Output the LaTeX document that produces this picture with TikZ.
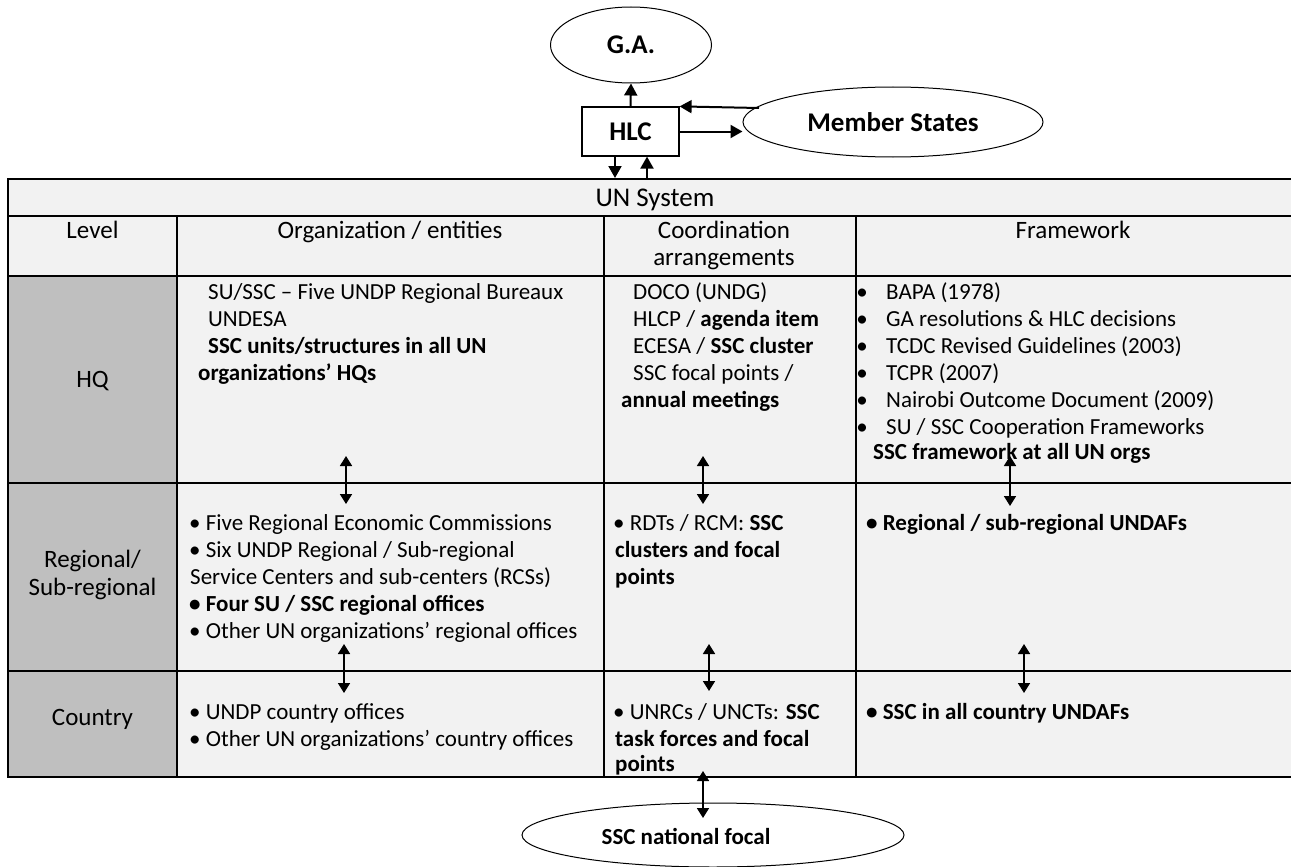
\documentclass[tikz,border=0pt]{standalone}
\usepackage{fontspec}
\setmainfont{Carlito}
\usetikzlibrary{arrows.meta,shapes.geometric}
\definecolor{cellbg}{HTML}{F2F2F2}
\definecolor{levelbg}{HTML}{BFBFBF}
\tikzset{
  body/.style={font=\fontsize{23}{26}\selectfont, inner sep=0pt, anchor=base west},
  bodyb/.style={font=\fontsize{23}{26}\selectfont\bfseries, inner sep=0pt, anchor=base west},
  hdr/.style={font=\fontsize{25}{28}\selectfont, inner sep=0pt, anchor=base},
  bullet/.style={font=\fontsize{23}{26}\selectfont, inner sep=0pt, anchor=base},
  grid/.style={line width=2.4pt, line cap=rect},
  oval/.style={ellipse, draw, line width=1pt, inner sep=0pt},
  toplbl/.style={font=\fontsize{27}{30}\selectfont\bfseries},
  arr/.style={line width=2pt, -{Triangle[length=12pt,width=13pt]}},
  dbl/.style={line width=1.7pt, {Triangle[length=10pt,width=12pt]}-{Triangle[length=10pt,width=12pt]}},
}
\begin{document}
\begin{tikzpicture}[x=1pt,y=-1pt]
\useasboundingbox (0,0) rectangle (1291,867);
% ---------- top part ----------
\node[oval, minimum width=161pt, minimum height=76pt, toplbl] (ga) at (631,45) {G.A.};
\node[draw, line width=1.2pt, minimum width=97pt, minimum height=49pt, inner sep=0pt, toplbl] (hlc) at (630.5,131.5) {HLC};
\node[oval, minimum width=300pt, minimum height=70pt, toplbl] (ms) at (893,122) {Member States};
\coordinate (msout) at (759,108);
\coordinate (dn) at (615,178);
\coordinate (up) at (647,179);
\draw[arr] (hlc.north) -- (ga.south);
\draw[arr] (msout) -- (hlc.north east);
\draw[arr] (hlc.east) -- (ms.west |- hlc.east);
\draw[arr] (hlc.south -| dn) -- (dn);
\draw[arr] (up) -- (hlc.south -| up);
% ---------- table ----------
\fill[cellbg] (8,179) rectangle (1296,777);
\fill[levelbg] (8,276) rectangle (177,777);
\draw[grid] (1296,179) -- (8,179) -- (8,777) -- (1296,777);
\draw[grid] (8,216) -- (1296,216);
\draw[grid] (8,276) -- (1296,276);
\draw[grid] (8,483) -- (1296,483);
\draw[grid] (8,671) -- (1296,671);
\draw[grid] (177,216) -- (177,777);
\draw[grid] (604,216) -- (604,777);
\draw[grid] (856,216) -- (856,777);
% headers
\node[hdr, font=\fontsize{27}{30}\selectfont] (unsys) at (655,206) {UN System};
\node[hdr] (hlevel) at (92.5,238) {Level};
\node[hdr] (horg) at (390,238) {Organization / entities};
\node[hdr] (hcoord1) at (724,238) {Coordination};
\node[hdr] (hcoord2) at (724,265) {arrangements};
\node[hdr] (hframe) at (1073,238) {Framework};
% level labels
\node[hdr, anchor=center] (lhq) at (92.5,381) {HQ};
\node[hdr, anchor=center, align=center] (lreg) at (92.5,575) {Regional/\\Sub-regional};
\node[hdr, anchor=center] (lcty) at (92.5,719) {Country};
% HQ row, organizations
\node[body] (o1) at (208,299) {SU/SSC – Five UNDP Regional Bureaux};
\node[body] (o2) at (208,326) {UNDESA};
\node[bodyb] (o3) at (208,353) {SSC units/structures in all UN};
\node[bodyb] (o4) at (198,380) {organizations’ HQs};
% HQ row, coordination
\node[body] (c1) at (633,299) {DOCO (UNDG)};
\node[body] (c2) at (633,326) {HLCP / \textbf{agenda item}};
\node[body] (c3) at (633,353) {ECESA / \textbf{SSC cluster}};
\node[body] (c4) at (633,380) {SSC focal points /};
\node[bodyb] (c5) at (621,407) {annual meetings};
% HQ row, framework
\foreach \y/\t [count=\i] in {299/{BAPA (1978)}, 326/{GA resolutions \& HLC decisions}, 353/{TCDC Revised Guidelines (2003)}, 380/{TCPR (2007)}, 407/{Nairobi Outcome Document (2009)}, 434/{SU / SSC Cooperation Frameworks}}{
  \node[bullet] (fb\i) at (862,\y) {•};
  \node[body] (f\i) at (886,\y) {\t};
}
\node[bodyb] (f7) at (873,459) {SSC framework at all UN orgs};
% Regional row
\node[body] (r1) at (189,530) {• Five Regional Economic Commissions};
\node[body] (r2) at (189,557) {• Six UNDP Regional / Sub-regional};
\node[body] (r3) at (190,584) {Service Centers and sub-centers (RCSs)};
\node[bodyb] (r4) at (189,611) {• Four SU / SSC regional offices};
\node[body] (r5) at (189,638) {• Other UN organizations’ regional offices};
\node[body] (rc1) at (613,530) {• RDTs / RCM: \textbf{SSC}};
\node[bodyb] (rc2) at (615,557) {clusters and focal};
\node[bodyb] (rc3) at (615,584) {points};
\node[bodyb] (rf1) at (866,530) {• Regional / sub-regional UNDAFs};
% Country row
\node[body] (k1) at (189,719) {• UNDP country offices};
\node[body] (k2) at (189,746) {• Other UN organizations’ country offices};
\node[body] (kc1) at (613,719) {• UNRCs / UNCTs: \textbf{SSC}};
\node[bodyb] (kc2) at (615,746) {task forces and focal};
\node[bodyb] (kc3) at (615,771) {points};
\node[bodyb] (kf1) at (866,719) {• SSC in all country UNDAFs};
% vertical links between levels
\coordinate (a1t) at (346,456); \coordinate (a1b) at (346,504);
\coordinate (a2t) at (703,456); \coordinate (a2b) at (703,504);
\coordinate (a3t) at (1010,456); \coordinate (a3b) at (1010,506);
\coordinate (b1t) at (344,644); \coordinate (b1b) at (344,693);
\coordinate (b2t) at (709,644); \coordinate (b2b) at (709,691);
\coordinate (b3t) at (1024,644); \coordinate (b3b) at (1024,693);
\draw[dbl] (a1t) -- (a1b);
\draw[dbl] (a2t) -- (a2b);
\draw[dbl] (a3t) -- (a3b);
\draw[dbl] (b1t) -- (b1b);
\draw[dbl] (b2t) -- (b2b);
\draw[dbl] (b3t) -- (b3b);
% bottom oval
\node[oval, minimum width=382pt, minimum height=64pt] (nfp) at (713,835) {};
\node[toplbl, font=\fontsize{23}{26}\selectfont\bfseries] (nfpt) at (686,836) {SSC national focal};
\coordinate (ct) at (703,771);
\coordinate (cb) at (703,818);
\draw[dbl] (ct) -- (cb);
\end{tikzpicture}
\end{document}
